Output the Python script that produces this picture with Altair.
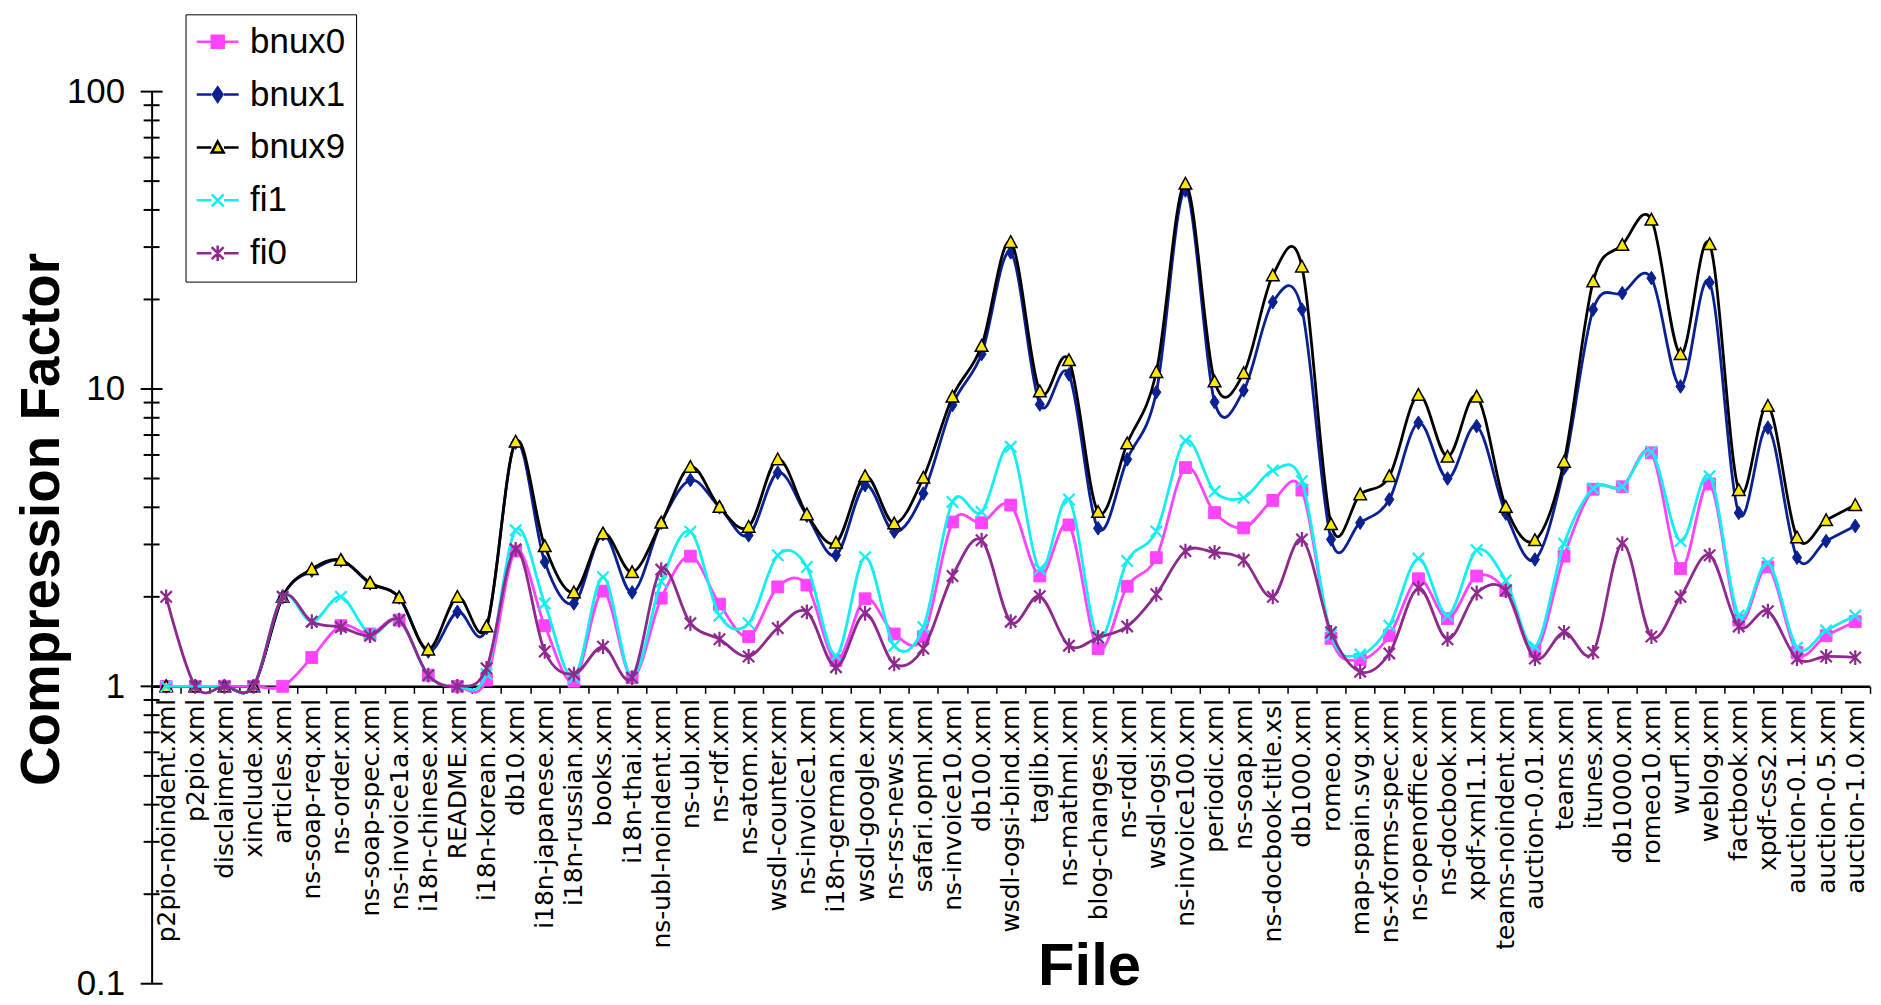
import altair as alt
import pandas as pd

FILES = [
    "p2pio-noindent.xml", "p2pio.xml", "disclaimer.xml", "xinclude.xml", "articles.xml",
    "ns-soap-req.xml", "ns-order.xml", "ns-soap-spec.xml", "ns-invoice1a.xml", "i18n-chinese.xml",
    "README.xml", "i18n-korean.xml", "db10.xml", "i18n-japanese.xml", "i18n-russian.xml",
    "books.xml", "i18n-thai.xml", "ns-ubl-noindent.xml", "ns-ubl.xml", "ns-rdf.xml",
    "ns-atom.xml", "wsdl-counter.xml", "ns-invoice1.xml", "i18n-german.xml", "wsdl-google.xml",
    "ns-rss-news.xml", "safari.opml.xml", "ns-invoice10.xml", "db100.xml", "wsdl-ogsi-bind.xml",
    "taglib.xml", "ns-mathml.xml", "blog-changes.xml", "ns-rddl.xml", "wsdl-ogsi.xml",
    "ns-invoice100.xml", "periodic.xml", "ns-soap.xml", "ns-docbook-title.xsl", "db1000.xml",
    "romeo.xml", "map-spain.svg.xml", "ns-xforms-spec.xml", "ns-openoffice.xml", "ns-docbook.xml",
    "xpdf-xml1.1.xml", "teams-noindent.xml", "auction-0.01.xml", "teams.xml", "itunes.xml",
    "db10000.xml", "romeo10.xml", "wurfl.xml", "weblog.xml", "factbook.xml",
    "xpdf-css2.xml", "auction-0.1.xml", "auction-0.5.xml", "auction-1.0.xml",
]

SERIES = ["bnux0", "bnux1", "bnux9", "fi1", "fi0"]

BNUX0 = [1.0, 1.0, 1.0, 1.0, 1.0, 1.25, 1.6, 1.5, 1.67, 1.09,
         1.0, 1.05, 2.85, 1.60, 1.04, 2.09, 1.07, 1.98, 2.74, 1.89,
         1.47, 2.16, 2.19, 1.22, 1.97, 1.50, 1.47, 3.57, 3.55, 4.07,
         2.35, 3.49, 1.34, 2.17, 2.71, 5.44, 3.84, 3.41, 4.22, 4.57,
         1.45, 1.23, 1.48, 2.30, 1.69, 2.35, 2.10, 1.31, 2.74, 4.6,
         4.69, 6.1, 2.49, 4.79, 1.67, 2.52, 1.30, 1.48, 1.65]

BNUX1 = [1.0, 1.0, 1.0, 1.0, 2.0, 2.45, 2.65, 2.22, 1.99, 1.31,
         1.78, 1.57, 6.6, 2.62, 1.90, 3.25, 2.07, 3.55, 4.94, 4.0,
         3.22, 5.23, 3.75, 2.76, 4.75, 3.31, 4.45, 8.83, 13.1, 28.8,
         8.87, 11.2, 3.40, 5.80, 9.75, 46.5, 9.04, 9.89, 19.6, 18.5,
         3.12, 3.55, 4.25, 7.70, 5.0, 7.5, 3.81, 2.67, 5.41, 18.5,
         21.0, 23.6, 10.2, 22.8, 3.83, 7.41, 2.71, 3.08, 3.46]

BNUX9 = [1.0, 1.0, 1.0, 1.0, 2.0, 2.48, 2.66, 2.23, 1.99, 1.33,
         2.0, 1.59, 6.65, 2.96, 2.07, 3.27, 2.42, 3.55, 5.47, 4.01,
         3.44, 5.80, 3.79, 3.04, 5.09, 3.53, 5.03, 9.42, 13.96, 31.2,
         9.81, 12.5, 3.86, 6.56, 11.4, 49.0, 10.6, 11.3, 24.1, 25.8,
         3.51, 4.42, 5.09, 9.55, 5.92, 9.42, 4.01, 3.10, 5.69, 23.0,
         30.5, 37.1, 13.1, 30.7, 4.57, 8.77, 3.17, 3.62, 4.07]

FI1 = [1.0, 1.0, 1.0, 1.0, 2.0, 1.65, 2.0, 1.5, 1.67, 1.09,
       1.0, 1.1, 3.35, 1.90, 1.07, 2.33, 1.07, 2.25, 3.31, 1.73,
       1.63, 2.76, 2.52, 1.27, 2.72, 1.37, 1.58, 4.17, 3.86, 6.39,
       2.48, 4.25, 1.46, 2.64, 3.32, 6.70, 4.52, 4.31, 5.32, 4.9,
       1.49, 1.28, 1.60, 2.69, 1.73, 2.87, 2.27, 1.36, 3.02, 4.63,
       4.69, 6.15, 3.08, 5.09, 1.73, 2.60, 1.35, 1.54, 1.73]

FI0 = [2.0, 1.0, 1.0, 1.0, 2.0, 1.65, 1.58, 1.48, 1.67, 1.09,
       1.0, 1.15, 2.89, 1.31, 1.10, 1.36, 1.07, 2.47, 1.63, 1.44,
       1.26, 1.57, 1.78, 1.16, 1.76, 1.19, 1.34, 2.35, 3.10, 1.65,
       2.01, 1.37, 1.46, 1.59, 2.04, 2.85, 2.82, 2.66, 2.0, 3.12,
       1.52, 1.12, 1.29, 2.14, 1.44, 2.06, 2.10, 1.24, 1.52, 1.30,
       3.02, 1.47, 2.0, 2.76, 1.59, 1.79, 1.24, 1.26, 1.25]

Y_LABEL_TICKS = [0.1, 1, 10, 100]
Y_MINOR_TICKS = [0.2, 0.3, 0.4, 0.5, 0.6, 0.7, 0.8, 0.9,
                 2, 3, 4, 5, 6, 7, 8, 9,
                 20, 30, 40, 50, 60, 70, 80, 90]

# styles
LINE_COLORS = ["#FF44FF", "#0B2191", "#000000", "#14EEF0", "#8E2A8E"]
FILL_COLORS = ["#FF44FF", "#0B2191", "#FFE800", "#14EEF0", "#8E2A8E"]
MARKERS = [
    "M-1,-1H1V1H-1Z",
    "M0,-1.2L0.8,0L0,1.2L-0.8,0Z",
    "M0,-1L1,0.85L-1,0.85Z",
    "M-1,-1L1,1M-1,1L1,-1",
    "M-1,-1L1,1M-1,1L1,-1M0,-1.3L0,1.3",
]
LEG_LINE = "M-3.5,0H-1.05M1.05,0H3.5"
LEGEND_PATHS = [LEG_LINE + m for m in MARKERS]
MARK_FILLED = [True, True, True, False, False]
MARK_SIZE = [140, 130, 160, 130, 130]
MARK_SW = [1, 1, 1.5, 2.2, 2.2]

SANS = "Liberation Sans, Arial, sans-serif"

rows = []
for s, vals in zip(SERIES, [BNUX0, BNUX1, BNUX9, FI1, FI0]):
    for f, v in zip(FILES, vals):
        rows.append({"file": f, "series": s, "value": v})
df = pd.DataFrame(rows)

STEP = 29.2
PLOT_H = 894.5
AXIS_Y1 = PLOT_H * 2.0 / 3.0

x_axis = alt.Axis(
    title="File", labelAngle=270, labelFont="DejaVu Sans", labelFontSize=25,
    labelColor="black", labelLimit=400, labelPadding=5, labelOverlap=False,
    tickBand="extent", tickSize=7, tickWidth=1.5, tickColor="black",
    domainColor="black", domainWidth=2.5, grid=False,
    offset=AXIS_Y1 - PLOT_H,
    titleFont=SANS, titleFontWeight="bold", titleFontSize=60, titleColor="black",
    titleX=940, titleY=299, titleAlign="center", titleBaseline="alphabetic",
)
x_enc = alt.X(
    "file:N", sort=FILES,
    scale=alt.Scale(type="band", domain=FILES, range=[0, STEP * len(FILES)],
                    paddingInner=0, paddingOuter=0),
    axis=x_axis, bandPosition=0.5,
)

y_axis = alt.Axis(
    title="Compression Factor", values=Y_LABEL_TICKS, format="~g",
    ticks=False, tickSize=0, labelFont=SANS, labelFontSize=35,
    labelColor="black", labelPadding=27, domainColor="black", domainWidth=2,
    grid=False,
    titleFont=SANS, titleFontWeight="bold", titleFontSize=55, titleColor="black",
    titleAngle=270, titleX=-93, titleY=428.5, titleAlign="center",
    titleBaseline="alphabetic",
)
y_enc = alt.Y("value:Q", scale=alt.Scale(type="log", domain=[0.1, 100], nice=False),
              axis=y_axis)

layers = []

# cross tick marks on the y axis
major = alt.Chart(pd.DataFrame({"value": Y_LABEL_TICKS})).mark_rule(
    color="black", strokeWidth=2).encode(
    y=y_enc, x=alt.value(-11), x2=alt.value(11))
minor = alt.Chart(pd.DataFrame({"value": Y_MINOR_TICKS})).mark_rule(
    color="black", strokeWidth=2).encode(
    y=y_enc, x=alt.value(-8), x2=alt.value(8))
layers += [major, minor]

for i, s in enumerate(SERIES):
    sub = alt.Chart(df).transform_filter(alt.datum.series == s)
    line = sub.mark_line(interpolate="cardinal", strokeWidth=2.8,
                         stroke=LINE_COLORS[i]).encode(x=x_enc, y=y_enc)
    pt = sub.mark_point(
        shape=MARKERS[i], size=MARK_SIZE[i], opacity=1,
        filled=MARK_FILLED[i],
        fill=FILL_COLORS[i] if MARK_FILLED[i] else "transparent",
        stroke=LINE_COLORS[i], strokeWidth=MARK_SW[i],
    ).encode(x=x_enc, y=y_enc)
    layers += [line, pt]

legend = alt.Legend(
    title=None, orient="none", legendX=34, legendY=-77.5,
    padding=10, rowPadding=17, strokeColor="black", fillColor="white",
    cornerRadius=0, labelFont=SANS, labelFontSize=35, labelColor="black",
    labelLimit=300, symbolSize=144, symbolStrokeWidth=2.5,
    symbolOffset=4.75, labelOffset=15, zindex=5,
)
leg_layer = alt.Chart(df).transform_filter("datum.value < 0").mark_point(
    filled=True, opacity=1).encode(
    x=x_enc, y=y_enc,
    stroke=alt.Stroke("series:N", scale=alt.Scale(domain=SERIES, range=LINE_COLORS), legend=legend),
    fill=alt.Fill("series:N", scale=alt.Scale(domain=SERIES, range=FILL_COLORS), legend=legend),
    shape=alt.Shape("series:N", scale=alt.Scale(domain=SERIES, range=LEGEND_PATHS), legend=legend),
)
layers.append(leg_layer)

chart = alt.layer(*layers).properties(
    width=1726, height=PLOT_H,
    autosize=alt.AutoSizeParams(type="none"),
    padding={"left": 144, "top": 82.5, "right": 0, "bottom": 16},
).configure_view(stroke=None)

chart.save("out.html", embed_options={"renderer": "svg", "actions": False})
